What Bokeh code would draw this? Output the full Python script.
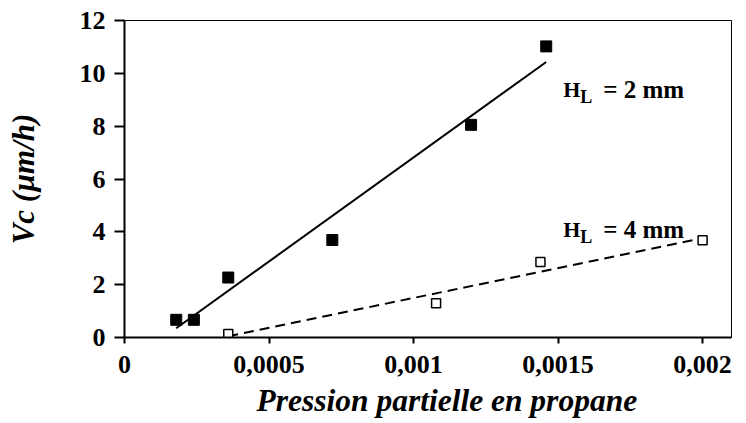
import numpy as np
from bokeh.plotting import figure
from bokeh.models import Range1d, FixedTicker, Label, Title
from bokeh.embed import file_html
from bokeh.resources import INLINE

# ---- data ----
x_2mm = [0.000179, 0.000240, 0.000359, 0.000719, 0.001199, 0.001459]
y_2mm = [0.67, 0.67, 2.27, 3.69, 8.05, 11.02]
x_4mm = [0.000359, 0.001078, 0.001439, 0.002]
y_4mm = [0.13, 1.30, 2.86, 3.68]

x_ticks = [0, 0.0005, 0.001, 0.0015, 0.002]
x_tick_labels = ["0", "0,0005", "0,001", "0,0015", "0,002"]
y_ticks = [0, 2, 4, 6, 8, 10, 12]

x_title = "Pression partielle en propane"
y_title = "Vc (\u00b5m/h)"
label_2mm = "= 2 mm"
label_4mm = "= 4 mm"

FONT = "Liberation Serif"

p = figure(frame_width=607, frame_height=317,
           min_border_left=124, min_border_right=7,
           min_border_top=20, min_border_bottom=84,
           x_range=Range1d(0, 0.0021), y_range=Range1d(0, 12),
           output_backend="svg", toolbar_location=None,
           background_fill_color="white", border_fill_color="white")

p.xgrid.visible = False
p.ygrid.visible = False
p.outline_line_color = "black"
p.outline_line_width = 1

for ax in (p.xaxis[0], p.yaxis[0]):
    ax.axis_line_color = "black"
    ax.axis_line_width = 2
    ax.major_tick_line_color = "black"
    ax.major_tick_line_width = 2
    ax.major_tick_in = 0
    ax.minor_tick_line_color = None
    ax.major_label_text_font = FONT
    ax.major_label_text_font_style = "bold"
    ax.major_label_text_font_size = "26px"
    ax.major_label_text_color = "black"

p.xaxis[0].ticker = FixedTicker(ticks=x_ticks)
p.xaxis[0].major_label_overrides = {t: l for t, l in zip(x_ticks, x_tick_labels)}
p.xaxis[0].major_tick_out = 6
p.xaxis[0].major_label_standoff = 12
p.yaxis[0].ticker = FixedTicker(ticks=y_ticks)
p.yaxis[0].major_tick_out = 10
p.yaxis[0].major_label_standoff = 9

# y-axis title
p.yaxis[0].axis_label = y_title
p.yaxis[0].axis_label_text_font = FONT
p.yaxis[0].axis_label_text_font_style = "bold italic"
p.yaxis[0].axis_label_text_font_size = "31px"
p.yaxis[0].axis_label_text_color = "black"
p.yaxis[0].axis_label_standoff = 36

# trend lines (least-squares fits of each series)
a2, b2 = np.polyfit(x_2mm, y_2mm, 1)
a4, b4 = np.polyfit(x_4mm, y_4mm, 1)
xs2 = [min(x_2mm), max(x_2mm)]
xs4 = [min(x_4mm), max(x_4mm)]
p.line(xs2, [a2 * x + b2 for x in xs2], line_color="black", line_width=2)
p.line(xs4, [a4 * x + b4 for x in xs4], line_color="black", line_width=2,
       line_dash="10 6")

p.scatter(x_2mm, y_2mm, marker="square", size=11, fill_color="black",
          line_color="black")
p.scatter(x_4mm, y_4mm, marker="square", size=9, fill_color="white",
          line_color="black", line_width=1.5)

# series labels H_L = ...
def hl_label(x, y, rest):
    p.add_layout(Label(x=x, y=y, text="H", text_font=FONT, text_color="black",
                       text_font_style="bold", text_font_size="22px",
                       text_align="left", text_baseline="alphabetic"))
    p.add_layout(Label(x=x, y=y, x_offset=17, y_offset=-8, text="L",
                       text_font=FONT, text_font_style="bold", text_color="black",
                       text_font_size="18px", text_align="left",
                       text_baseline="alphabetic"))
    p.add_layout(Label(x=x, y=y, x_offset=40, text=rest, text_font=FONT,
                       text_font_style="bold", text_font_size="25px",
                       text_color="black",
                       text_align="left", text_baseline="alphabetic"))

hl_label(0.001518, 9.39, label_2mm)
hl_label(0.001518, 4.09, label_4mm)

# x-axis title
p.add_layout(Title(text=x_title, text_font=FONT, text_font_style="bold italic",
                   text_font_size="31.5px", text_color="black",
                   align="left", offset=132, standoff=11), "below")

open("out.html", "w").write(file_html(p, INLINE))
